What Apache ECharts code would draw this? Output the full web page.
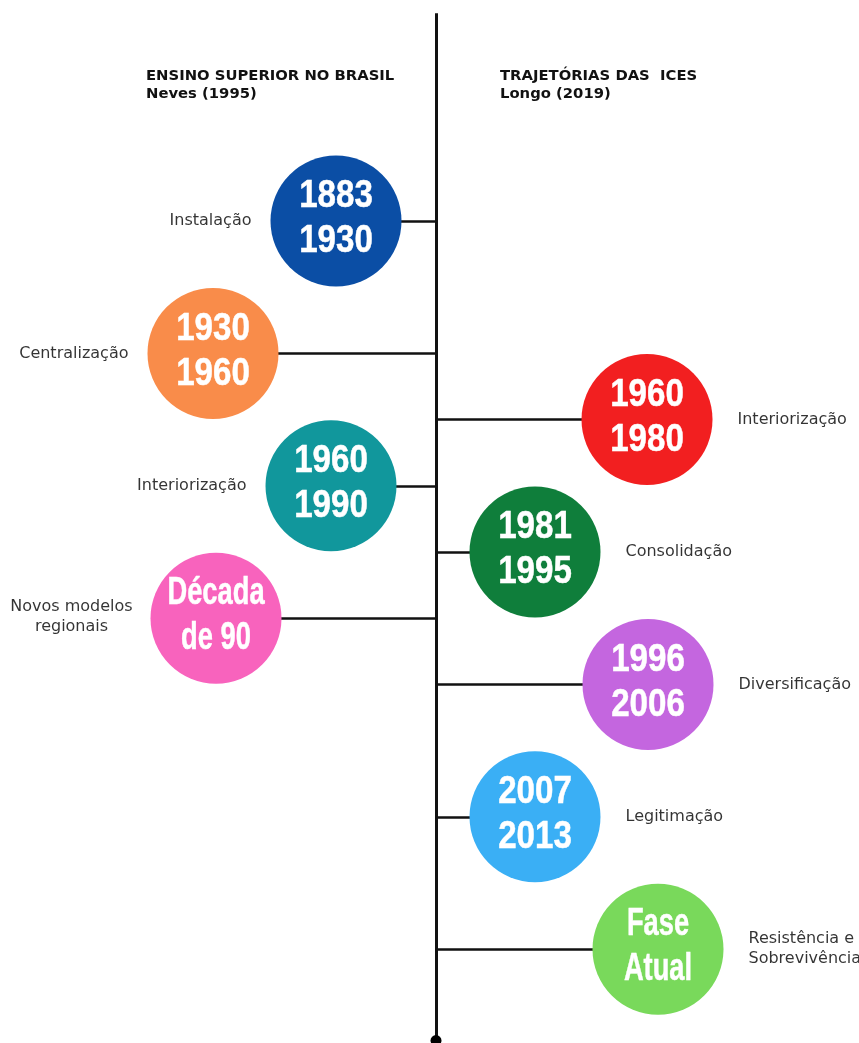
<!DOCTYPE html>
<html>
<head>
<meta charset="utf-8">
<script src="https://cdn.jsdelivr.net/npm/echarts@6/dist/echarts.min.js"></script>
<style>
    html, body { margin: 0; padding: 0; background: #fff; }
    #timeline { width: 859px; height: 1043px; }
</style>
</head>
<body>
<div id="timeline"></div>
<script>
// Neves (1995) - lado esquerdo
const leftPeriods = ['1883\n1930', '1930\n1960', '1960\n1990', 'Década\nde 90'];
const leftPhases = ['Instalação', 'Centralização', 'Interiorização', 'Novos modelos\nregionais'];
const leftSlots = [0, 2, 4, 6];
const leftOffsets = [-100, -223, -105, -220];
const leftColors = ['#0b4ea5', '#f98c4a', '#11979c', '#f863bd'];

// Longo (2019) - lado direito
const rightPeriods = ['1960\n1980', '1981\n1995', '1996\n2006', '2007\n2013', 'Fase\nAtual'];
const rightPhases = ['Interiorização', 'Consolidação', 'Diversificação', 'Legitimação', 'Resistência e\nSobrevivência'];
const rightSlots = [3, 5, 7, 9, 11];
const rightOffsets = [211, 99, 212, 99, 222];
const rightColors = ['#f21f20', '#0f7e3b', '#c466df', '#3aaff5', '#79d95b'];

const headers = [
    'ENSINO SUPERIOR NO BRASIL\nNeves (1995)',
    'TRAJETÓRIAS DAS  ICES\nLongo (2019)'
];

// extensao da linha do tempo (em linhas)
const spineStart = -3.14;
const spineEnd = 12.38;

function timeline() {
    let chart = echarts.init(document.getElementById('timeline'));

    const rowStep = 66.2;
    const firstRow = 221;
    const H = 1043;
    const radius = 65.5;

    let circles = [];
    let phases = [];
    let links = [];

    leftPeriods.forEach(function (p, i) {
        circles.push({value: [leftOffsets[i], leftSlots[i]], period: p, color: leftColors[i]});
        phases.push({
            value: [leftOffsets[i], leftSlots[i]],
            phase: leftPhases[i],
            label: leftPhases[i].indexOf('\n') > -1
                ? {position: 'left', align: 'center', offset: [-60, -1]}
                : {position: 'left'}
        });
        links.push({coords: [[0, leftSlots[i]], [leftOffsets[i], leftSlots[i]]]});
    });
    rightPeriods.forEach(function (p, i) {
        circles.push({value: [rightOffsets[i], rightSlots[i]], period: p, color: rightColors[i]});
        phases.push({
            value: [rightOffsets[i], rightSlots[i]],
            phase: rightPhases[i],
            label: {position: 'right', distance: 25}
        });
        links.push({coords: [[0, rightSlots[i]], [rightOffsets[i], rightSlots[i]]]});
    });
    links.push({coords: [[0, spineStart], [0, spineEnd]], lineStyle: {width: 3}});

    function renderCircle(params, api) {
        let c = api.coord([api.value(0), api.value(1)]);
        let item = circles[params.dataIndex];
        // letras da fonte condensada sao mais estreitas que os numeros
        let squeeze = /[A-Za-zé]/.test(item.period) ? 0.7 : 0.85;
        return {
            type: 'group',
            children: [
                {
                    type: 'circle',
                    shape: {cx: c[0], cy: c[1], r: radius},
                    style: {fill: item.color}
                },
                {
                    type: 'text',
                    x: c[0],
                    y: c[1] - 2,
                    scaleX: squeeze,
                    style: {
                        text: item.period,
                        fill: '#fff',
                        stroke: '#fff',
                        lineWidth: 0.5,
                        fontFamily: 'Liberation Sans',
                        fontWeight: 'bold',
                        fontSize: 39,
                        lineHeight: 45,
                        align: 'center',
                        verticalAlign: 'middle'
                    }
                }
            ]
        };
    }

    option = {
        animation: false,
        title: headers.map(function (t, i) {
            return {
                text: t,
                left: i === 0 ? 146 : 500,
                top: 67,
                padding: 0,
                textStyle: {
                    fontFamily: 'DejaVu Sans',
                    fontSize: 14.8,
                    fontWeight: 'bold',
                    color: '#111',
                    lineHeight: 18
                }
            };
        }),
        grid: {left: 0, right: 0, top: 0, bottom: 0},
        xAxis: {
            type: 'value',
            min: -436,
            max: 423,
            show: false
        },
        yAxis: {
            type: 'value',
            inverse: true,
            min: -firstRow / rowStep,
            max: (H - firstRow) / rowStep,
            show: false
        },
        series: [
            {
                type: 'lines',
                coordinateSystem: 'cartesian2d',
                silent: true,
                z: 1,
                lineStyle: {color: '#111', width: 2.5, opacity: 1},
                data: links
            },
            {
                type: 'scatter',
                silent: true,
                z: 2,
                symbolSize: 11,
                itemStyle: {color: '#000', opacity: 1},
                data: [[0, spineEnd]]
            },
            {
                type: 'custom',
                silent: true,
                z: 3,
                encode: {x: 0, y: 1},
                renderItem: renderCircle,
                data: circles
            },
            {
                type: 'scatter',
                silent: true,
                z: 4,
                symbolSize: 131,
                itemStyle: {color: 'rgba(0,0,0,0)'},
                data: phases,
                label: {
                    show: true,
                    distance: 19,
                    formatter: function (p) { return p.data.phase; },
                    color: '#000',
                    fontFamily: 'DejaVu Sans',
                    fontSize: 16,
                    lineHeight: 20
                }
            }
        ]
    };

    chart.setOption(option);
}

new timeline();
</script>
</body>
</html>
